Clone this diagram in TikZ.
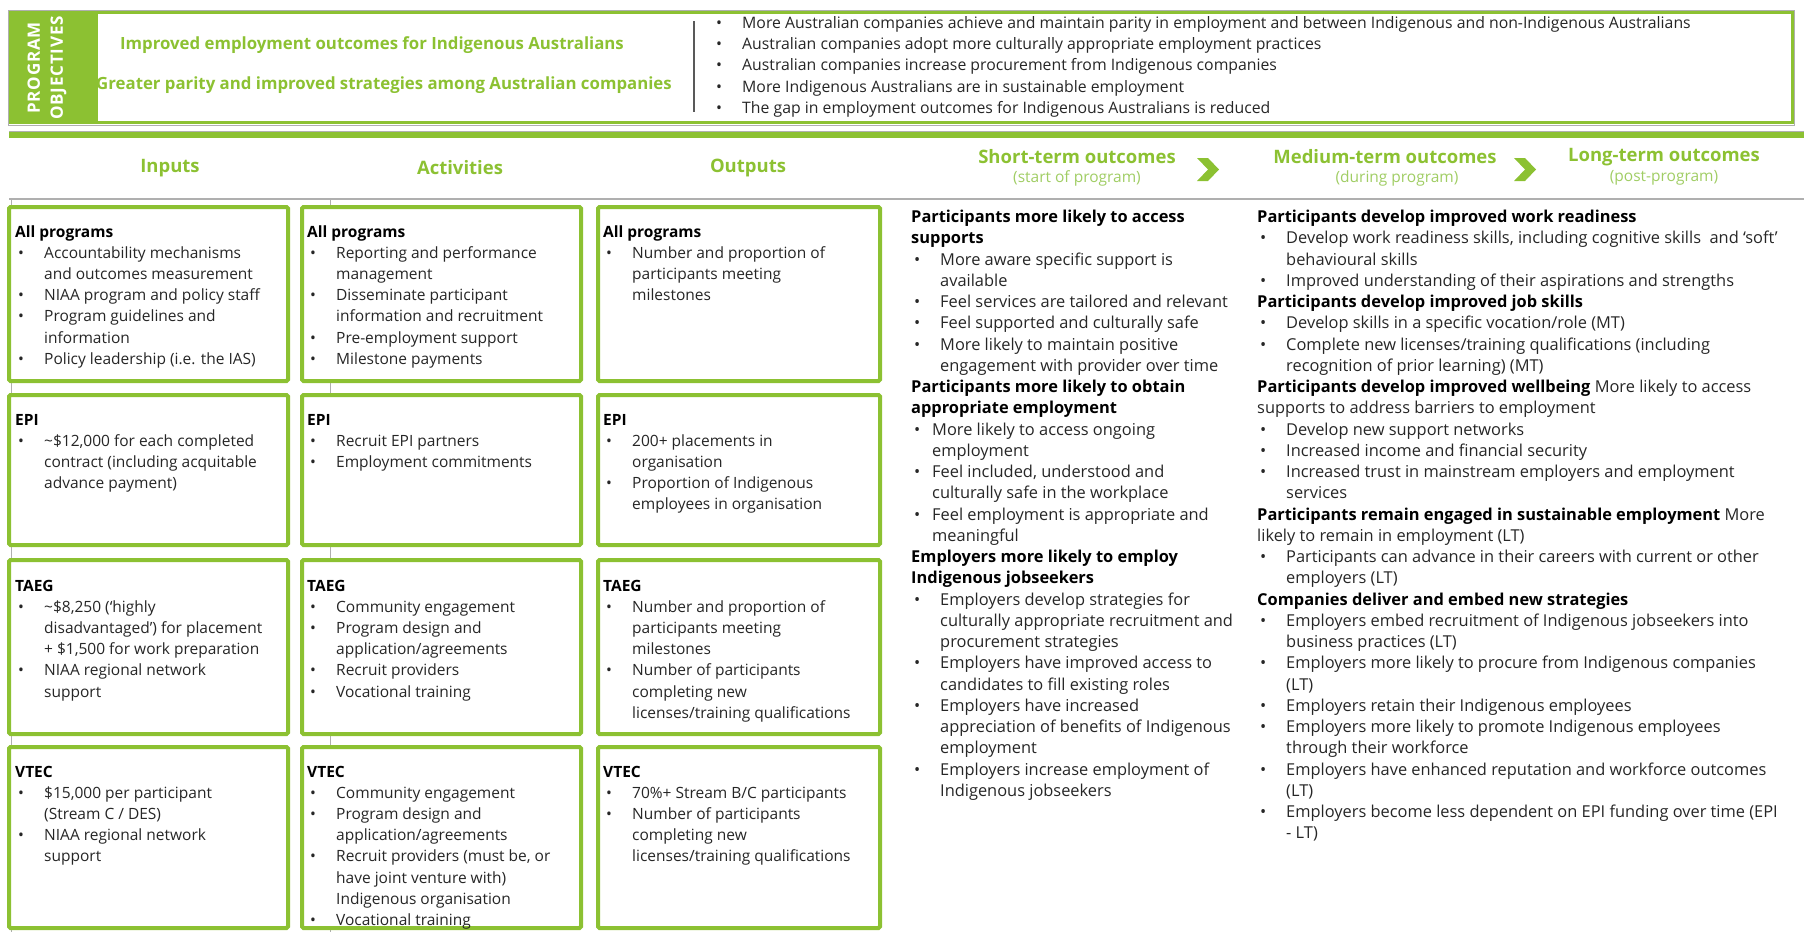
\documentclass[tikz,border=0pt]{standalone}
\usepackage{fontspec}
\setmainfont{Open Sans}

\definecolor{lmgreen}{RGB}{140,193,50}
\definecolor{lmlight}{RGB}{160,205,100}
\definecolor{bodygray}{RGB}{38,38,38}
\definecolor{rulegray}{RGB}{175,175,175}

% Bullet lines
\newcommand{\lmhd}[1]{\textbf{\color{black}#1}}
\newcommand{\lmbul}{\hspace*{3pt}\makebox[26pt][l]{\textbullet}}
\newcommand{\lmcont}{\hspace*{29pt}}
\newcommand{\lmbulx}{\hspace*{3pt}\makebox[18pt][l]{\textbullet}}
\newcommand{\lmcontx}{\hspace*{21pt}}
\newcommand{\lmlines}[1]{\parbox[t]{1200pt}{#1}}

\tikzset{
  progbox/.style={draw=lmgreen, line width=4pt, fill=white, rounded corners=1.5pt},
  boxtext/.style={anchor=base west, inner sep=0pt, text=bodygray, font=\fontsize{15.5}{21.2}\selectfont},
  outtext/.style={anchor=base west, inner sep=0pt, text=bodygray, font=\fontsize{16.4}{21.25}\selectfont},
  colhead/.style={inner sep=0pt, text=lmgreen, font=\bfseries\fontsize{18.5}{20}\selectfont},
  colsub/.style={inner sep=0pt, text=lmlight, font=\fontsize{15.5}{18}\selectfont},
  objtitle/.style={inner sep=0pt, text=lmgreen, font=\bfseries\fontsize{16.8}{20}\selectfont},
}

\begin{document}
\begin{tikzpicture}[x=1pt, y=-1pt]

  \useasboundingbox (0,0) rectangle (1804,932);

	% Column and row edges
	\def\colA{15}
	\def\colB{307}
	\def\colC{603}
	\def\rowA{237}
	\def\rowB{425}
	\def\rowC{591}
	\def\rowD{777}

	% Objectives panel
	\draw[rulegray, line width=0.8pt] (8.5,10.5) rectangle (1794,125);
	\fill[lmgreen] (9,11) rectangle (96,124);
	\draw[lmgreen, line width=3pt] (96,12.5) rectangle (1792.5,122.5);
	\node[rotate=90, align=center, text=white, inner sep=0pt,
	      font=\bfseries\fontsize{17}{23}\selectfont\addfontfeature{LetterSpace=5}] (objLabel) at (47,68) {PROGRAM\\OBJECTIVES};
	\node[objtitle] (objAimA) at (372,45) {Improved employment outcomes for Indigenous Australians};
	\node[objtitle] (objAimB) at (384,85) {Greater parity and improved strategies among Australian companies};
	\draw[gray!70!black, line width=1.2pt] (694,21) -- (694,112);
	\node[anchor=base west, inner sep=0pt, text=bodygray, font=\fontsize{15.8}{21.2}\selectfont] (objList) at (716,28.5)
	  {\lmlines{\makebox[26pt][l]{\textbullet}More Australian companies achieve and maintain parity in employment and between Indigenous and non-Indigenous Australians\\
	  \makebox[26pt][l]{\textbullet}Australian companies adopt more culturally appropriate employment practices\\
	  \makebox[26pt][l]{\textbullet}Australian companies increase procurement from Indigenous companies\\
	  \makebox[26pt][l]{\textbullet}More Indigenous Australians are in sustainable employment\\
	  \makebox[26pt][l]{\textbullet}The gap in employment outcomes for Indigenous Australians is reduced}};

	% Rules
	\draw[rulegray, line width=0.8pt] (9,131) -- (1804,131);
	\fill[lmgreen] (9,132) rectangle (1804,138);
	\draw[rulegray, line width=1.2pt] (9,199) -- (1804,199);
	\draw[rulegray, line width=0.8pt] (11,199) -- (11,932);
	\draw[rulegray, line width=0.8pt] (330,199) -- (330,932);

	% Column headers
	\node[colhead] (hInputs) at (170,168) {Inputs};
	\node[colhead] (hActivities) at (460,168) {Activities};
	\node[colhead] (hOutputs) at (748,168) {Outputs};
	\node[colhead] (hShort) at (1077,157) {Short-term outcomes};
	\node[colsub] (sShort) at (1077,178) {(start of program)};
	\node[colhead] (hMedium) at (1385,157) {Medium-term outcomes};
	\node[colsub] (sMedium) at (1397,178) {(during program)};
	\node[colhead] (hLong) at (1664,157) {Long-term outcomes};
	\node[colsub] (sLong) at (1664,178) {(post-program)};
	\foreach \cx in {1197,1514}
	  \fill[lmgreen] (\cx,158) -- ++(11,0) -- ++(11,11.5) -- ++(-11,11.5) -- ++(-11,0) -- ++(11,-11.5) -- cycle;

	% Boxes
	\foreach \xl/\xr in {9/288, 302/581, 598/880}
	  \foreach \yt/\yb in {207/381, 395/545, 560/734, 747/928}
	    \draw[progbox] (\xl,\yt) rectangle (\xr,\yb);

	% All programs
	\node[boxtext] (inAll) at (\colA,\rowA) {\lmlines{\lmhd{All programs}\\
	  \lmbul Accountability mechanisms\\
	  \lmcont and outcomes measurement\\
	  \lmbul NIAA program and policy staff\\
	  \lmbul Program guidelines and\\
	  \lmcont information\\
	  \lmbul Policy leadership (i.e. the IAS)}};
	\node[boxtext] (actAll) at (\colB,\rowA) {\lmlines{\lmhd{All programs}\\
	  \lmbul Reporting and performance\\
	  \lmcont management\\
	  \lmbul Disseminate participant\\
	  \lmcont information and recruitment\\
	  \lmbul Pre-employment support\\
	  \lmbul Milestone payments}};
	\node[boxtext] (outAll) at (\colC,\rowA) {\lmlines{\lmhd{All programs}\\
	  \lmbul Number and proportion of\\
	  \lmcont participants meeting\\
	  \lmcont milestones}};

	% EPI
	\node[boxtext] (inEPI) at (\colA,\rowB) {\lmlines{\lmhd{EPI}\\
	  \lmbul \textasciitilde\$12,000 for each completed\\
	  \lmcont contract (including acquitable\\
	  \lmcont advance payment)}};
	\node[boxtext] (actEPI) at (\colB,\rowB) {\lmlines{\lmhd{EPI}\\
	  \lmbul Recruit EPI partners\\
	  \lmbul Employment commitments}};
	\node[boxtext] (outEPI) at (\colC,\rowB) {\lmlines{\lmhd{EPI}\\
	  \lmbul 200+ placements in\\
	  \lmcont organisation\\
	  \lmbul Proportion of Indigenous\\
	  \lmcont employees in organisation}};

	% TAEG
	\node[boxtext] (inTAEG) at (\colA,\rowC) {\lmlines{\lmhd{TAEG}\\
	  \lmbul \textasciitilde\$8,250 (‘highly\\
	  \lmcont disadvantaged’) for placement\\
	  \lmcont + \$1,500 for work preparation\\
	  \lmbul NIAA regional network\\
	  \lmcont support}};
	\node[boxtext] (actTAEG) at (\colB,\rowC) {\lmlines{\lmhd{TAEG}\\
	  \lmbul Community engagement\\
	  \lmbul Program design and\\
	  \lmcont application/agreements\\
	  \lmbul Recruit providers\\
	  \lmbul Vocational training}};
	\node[boxtext] (outTAEG) at (\colC,\rowC) {\lmlines{\lmhd{TAEG}\\
	  \lmbul Number and proportion of\\
	  \lmcont participants meeting\\
	  \lmcont milestones\\
	  \lmbul Number of participants\\
	  \lmcont completing new\\
	  \lmcont licenses/training qualifications}};

	% VTEC
	\node[boxtext] (inVTEC) at (\colA,\rowD) {\lmlines{\lmhd{VTEC}\\
	  \lmbul \$15,000 per participant\\
	  \lmcont (Stream C / DES)\\
	  \lmbul NIAA regional network\\
	  \lmcont support}};
	\node[boxtext] (actVTEC) at (\colB,\rowD) {\lmlines{\lmhd{VTEC}\\
	  \lmbul Community engagement\\
	  \lmbul Program design and\\
	  \lmcont application/agreements\\
	  \lmbul Recruit providers (must be, or\\
	  \lmcont have joint venture with)\\
	  \lmcont Indigenous organisation\\
	  \lmbul Vocational training}};
	\node[boxtext] (outVTEC) at (\colC,\rowD) {\lmlines{\lmhd{VTEC}\\
	  \lmbul 70\%+ Stream B/C participants\\
	  \lmbul Number of participants\\
	  \lmcont completing new\\
	  \lmcont licenses/training qualifications}};

	% Short-term outcomes
	\node[outtext] (shortList) at (911,222.5) {\lmlines{\lmhd{Participants more likely to access}\\
	  \lmhd{supports}\\
	  \lmbul More aware specific support is\\
	  \lmcont available\\
	  \lmbul Feel services are tailored and relevant\\
	  \lmbul Feel supported and culturally safe\\
	  \lmbul More likely to maintain positive\\
	  \lmcont engagement with provider over time\\
	  \lmhd{Participants more likely to obtain}\\
	  \lmhd{appropriate employment}\\
	  \lmbulx More likely to access ongoing\\
	  \lmcontx employment\\
	  \lmbulx Feel included, understood and\\
	  \lmcontx culturally safe in the workplace\\
	  \lmbulx Feel employment is appropriate and\\
	  \lmcontx meaningful\\
	  \lmhd{Employers more likely to employ}\\
	  \lmhd{Indigenous jobseekers}\\
	  \lmbul Employers develop strategies for\\
	  \lmcont culturally appropriate recruitment and\\
	  \lmcont procurement strategies\\
	  \lmbul Employers have improved access to\\
	  \lmcont candidates to fill existing roles\\
	  \lmbul Employers have increased\\
	  \lmcont appreciation of benefits of Indigenous\\
	  \lmcont employment\\
	  \lmbul Employers increase employment of\\
	  \lmcont Indigenous jobseekers}};

	% Medium and long-term outcomes
	\node[outtext] (longList) at (1257,222.5) {\lmlines{\lmhd{Participants develop improved work readiness}\\
	  \lmbul Develop work readiness skills, including cognitive skills\ \ and ‘soft’\\
	  \lmcont behavioural skills\\
	  \lmbul Improved understanding of their aspirations and strengths\\
	  \lmhd{Participants develop improved job skills}\\
	  \lmbul Develop skills in a specific vocation/role (MT)\\
	  \lmbul Complete new licenses/training qualifications (including\\
	  \lmcont recognition of prior learning) (MT)\\
	  \lmhd{Participants develop improved wellbeing} More likely to access\\
	  supports to address barriers to employment\\
	  \lmbul Develop new support networks\\
	  \lmbul Increased income and financial security\\
	  \lmbul Increased trust in mainstream employers and employment\\
	  \lmcont services\\
	  \lmhd{Participants remain engaged in sustainable employment} More\\
	  likely to remain in employment (LT)\\
	  \lmbul Participants can advance in their careers with current or other\\
	  \lmcont employers (LT)\\
	  \lmhd{Companies deliver and embed new strategies}\\
	  \lmbul Employers embed recruitment of Indigenous jobseekers into\\
	  \lmcont business practices (LT)\\
	  \lmbul Employers more likely to procure from Indigenous companies\\
	  \lmcont (LT)\\
	  \lmbul Employers retain their Indigenous employees\\
	  \lmbul Employers more likely to promote Indigenous employees\\
	  \lmcont through their workforce\\
	  \lmbul Employers have enhanced reputation and workforce outcomes\\
	  \lmcont (LT)\\
	  \lmbul Employers become less dependent on EPI funding over time (EPI\\
	  \lmcont - LT)}};

\end{tikzpicture}
\end{document}
